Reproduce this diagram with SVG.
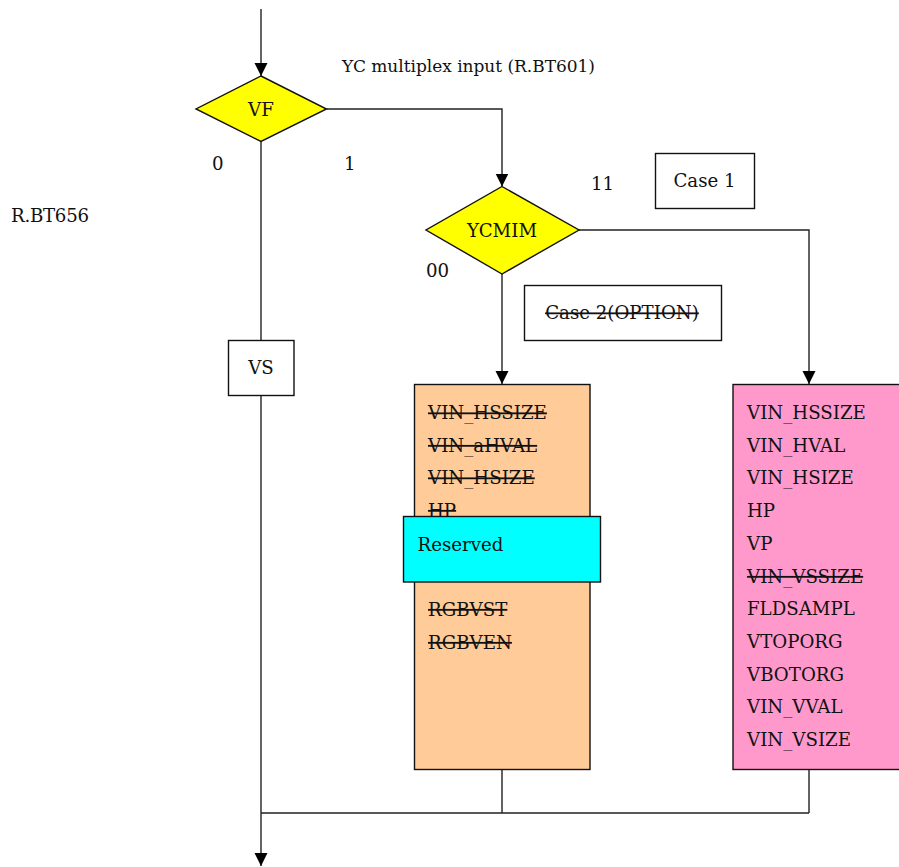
<svg xmlns="http://www.w3.org/2000/svg" width="899" height="867" viewBox="0 0 899 867">
<style>
text{font-family:"DejaVu Serif","Liberation Serif",serif;font-size:18.2px;fill:#111}
.c{text-anchor:middle}
.s{text-decoration:line-through}
.sm{font-size:17px}
.ln{fill:none;stroke:#222;stroke-width:1.4}
.box{stroke:#111;stroke-width:1.4}
</style>
<defs>
<marker id="ah" markerUnits="userSpaceOnUse" markerWidth="14" markerHeight="15" refX="13" refY="7" orient="auto" viewBox="0 0 14 14">
<path d="M0,0.5 L13,7 L0,13.5 Z" fill="#000"/>
</marker>
</defs>
<rect width="899" height="867" fill="#fff"/>
<g id="connectors">
<path class="ln" d="M261,9 V76" marker-end="url(#ah)"/>
<path class="ln" d="M326.5,109 H502 V186.5" marker-end="url(#ah)"/>
<path class="ln" d="M261,141 V340"/>
<path class="ln" d="M579,230 H809 V384" marker-end="url(#ah)"/>
<path class="ln" d="M502,274 V384" marker-end="url(#ah)"/>
<path class="ln" d="M261,395 V866" marker-end="url(#ah)"/>
<path class="ln" d="M502,769 V813 M809,769 V813 M261,813 H809"/>
</g>
<g id="labels">
<text class="sm" x="342" y="72" textLength="253">YC multiplex input (R.BT601)</text>
<text x="212" y="170">0</text>
<text x="344" y="170">1</text>
<text x="591" y="190">11</text>
<text x="426" y="277">00</text>
<text x="11" y="222" textLength="78">R.BT656</text>
</g>
<g id="node-vf">
<polygon class="box" points="261,76 326.5,109 261,141.5 196,109" fill="#ffff00"/>
<text class="c" x="261" y="115.5">VF</text>
</g>
<g id="node-ycmim">
<polygon class="box" points="502,186.5 579,230 502,274 426,230" fill="#ffff00"/>
<text class="c" x="502" y="236.5">YCMIM</text>
</g>
<g id="node-case1">
<rect class="box" x="655.5" y="153.5" width="99" height="55" fill="#fff"/>
<text class="c" x="704.5" y="187">Case 1</text>
</g>
<g id="node-case2">
<rect class="box" x="524.5" y="285.5" width="197" height="55" fill="#fff"/>
<text class="c s" x="622" y="319">Case 2(OPTION)</text>
</g>
<g id="node-vs">
<rect class="box" x="228.5" y="340.5" width="65.5" height="55" fill="#fff"/>
<text class="c" x="261" y="374">VS</text>
</g>
<g id="node-case2-regs">
<rect class="box" x="414.5" y="384.5" width="175.5" height="385" fill="#ffcc99"/>
<text class="s" x="428" y="419">VIN_HSSIZE</text>
<text class="s" x="428" y="451.5">VIN_aHVAL</text>
<text class="s" x="428" y="484">VIN_HSIZE</text>
<text class="s" x="428" y="516.5">HP</text>
<text class="s" x="428" y="615.5">RGBVST</text>
<text class="s" x="428" y="648.5">RGBVEN</text>
</g>
<g id="node-reserved">
<rect class="box" x="403.5" y="516.5" width="197" height="65.5" fill="#00ffff"/>
<text x="417.5" y="551">Reserved</text>
</g>
<g id="node-case1-regs">
<rect class="box" x="733" y="384.5" width="175" height="385" fill="#ff99cc"/>
<text x="747" y="419">VIN_HSSIZE</text>
<text x="747" y="451.7">VIN_HVAL</text>
<text x="747" y="484.4">VIN_HSIZE</text>
<text x="747" y="517">HP</text>
<text x="747" y="549.8">VP</text>
<text class="s" x="747" y="582.5">VIN_VSSIZE</text>
<text x="747" y="615.2">FLDSAMPL</text>
<text x="747" y="648">VTOPORG</text>
<text x="747" y="680.7">VBOTORG</text>
<text x="747" y="713.4">VIN_VVAL</text>
<text x="747" y="746.3">VIN_VSIZE</text>
</g>
</svg>
